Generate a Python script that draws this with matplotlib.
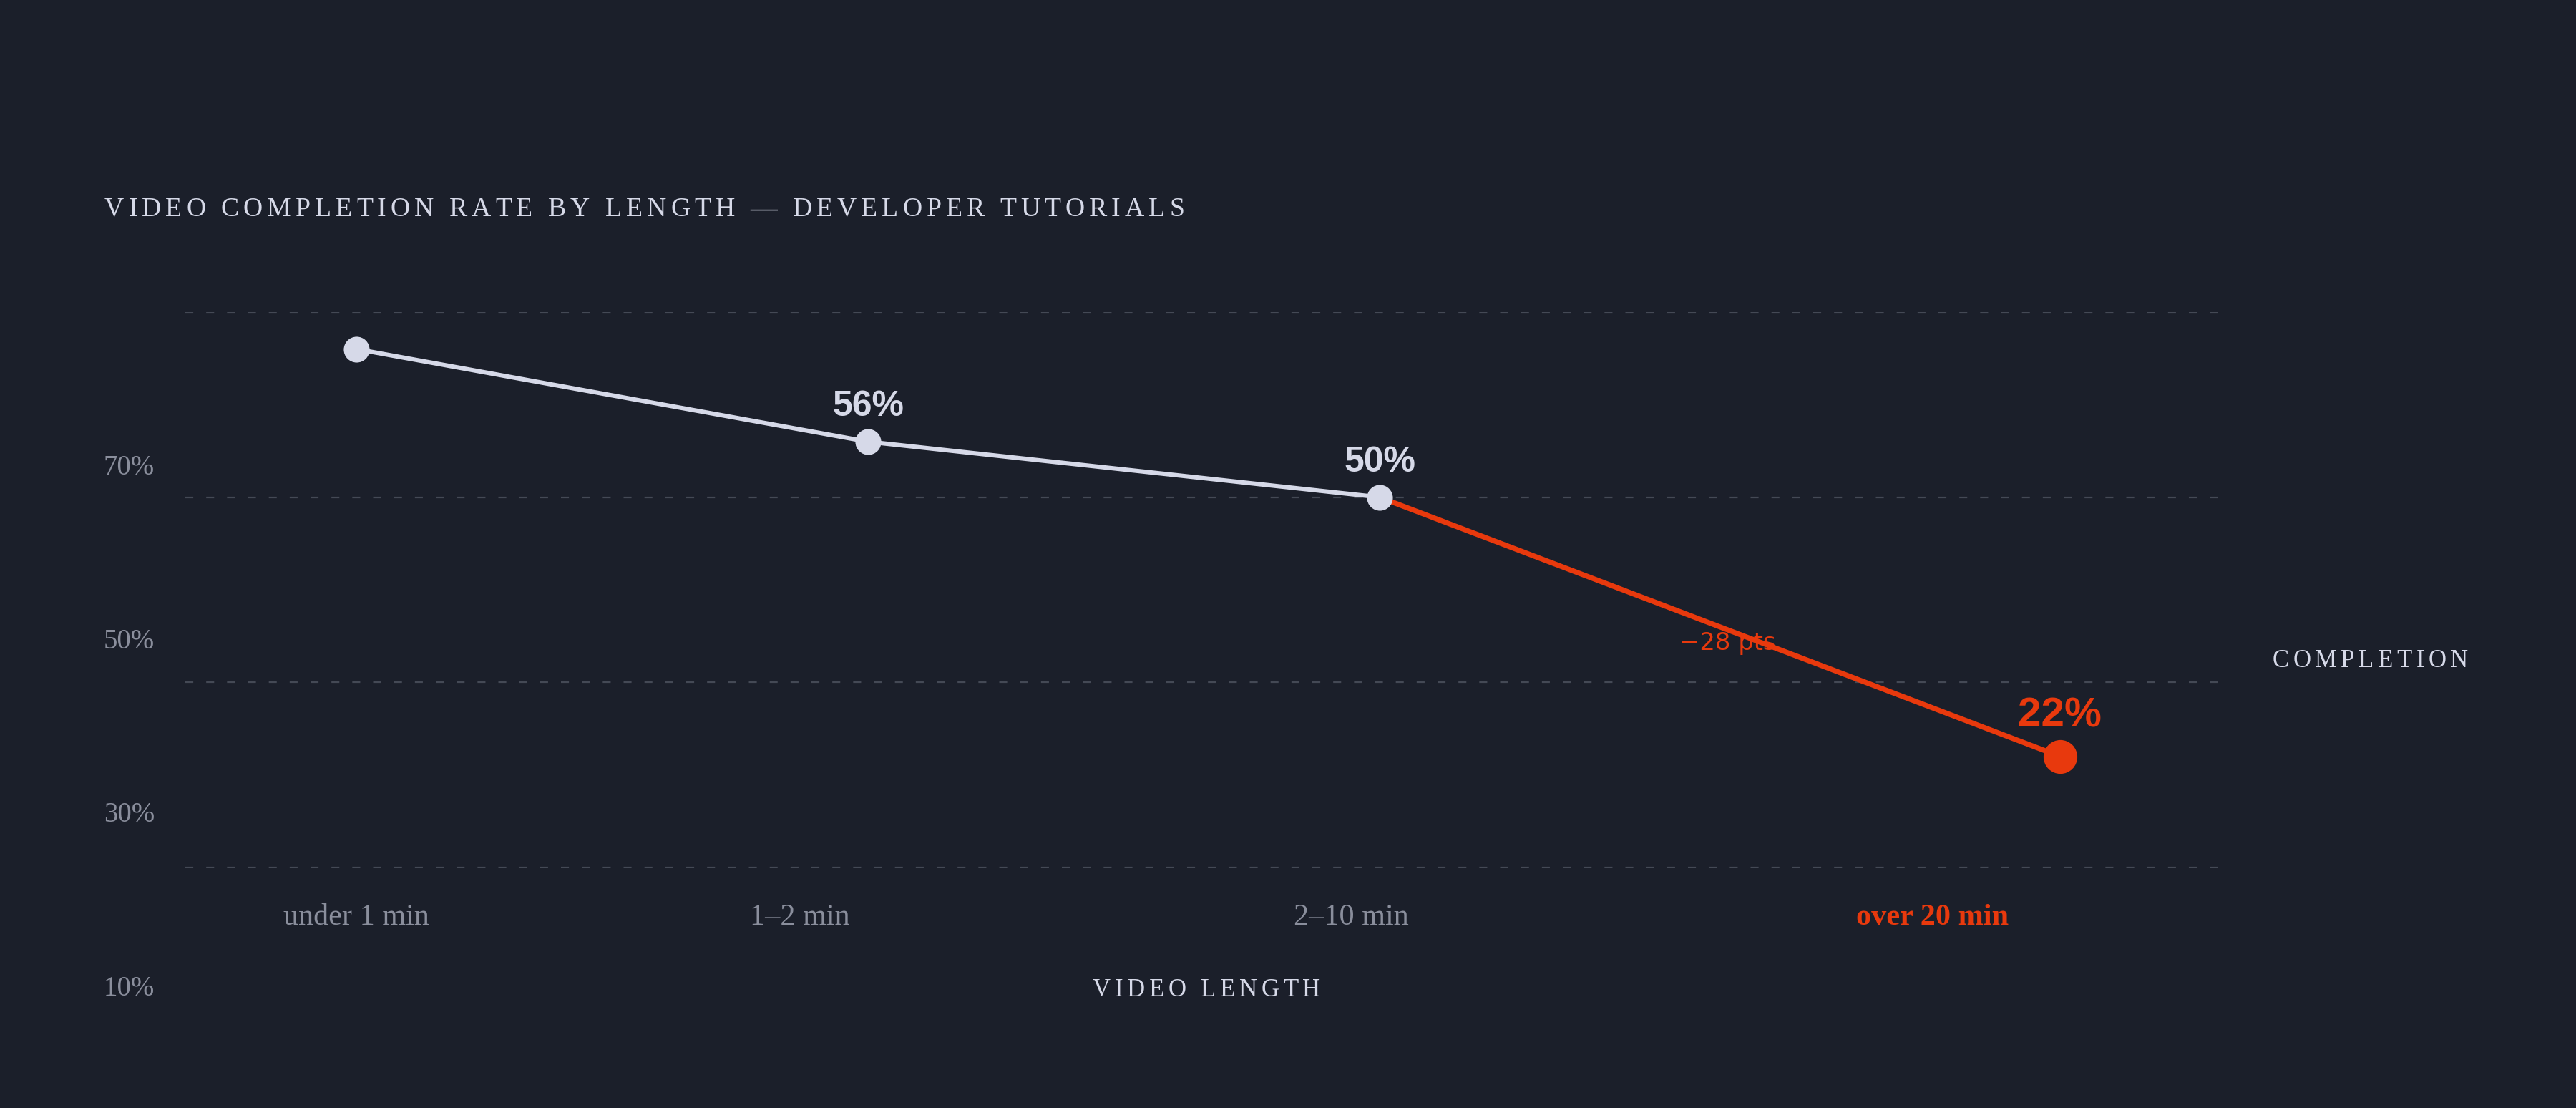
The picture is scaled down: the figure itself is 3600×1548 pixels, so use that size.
import matplotlib
matplotlib.use("Agg")
import matplotlib.pyplot as plt

# ---------------- data ----------------
categories = ["under 1 min", "1–2 min", "2–10 min", "over 20 min"]
completion = [66, 56, 50, 22]
labelled = [False, True, True, True]
y_ticks = [10, 30, 50, 70]
y_tick_labels = ["10%", "30%", "50%", "70%"]
drop_label = "−28 pts"
title = "VIDEO COMPLETION RATE BY LENGTH — DEVELOPER TUTORIALS"
x_title = "VIDEO LENGTH"
y_title = "COMPLETION"

# ---------------- layout / style ----------------
slots = [0, 1, 2, 3.33]            # horizontal slot of each point
tick_slots = [0, 0.867, 1.945, 3.08]
W, H, DPI = 3600, 1548, 200
BG = "#1b1f2a"
LIGHT = "#d6d9e8"
GRAY = "#8a8e9c"
RED = "#e8390d"
GRID = "#444955"
SERIF = "Liberation Serif"
SANS = "Liberation Sans"

plt.rcParams["lines.scale_dashes"] = False
fig = plt.figure(figsize=(W / DPI, H / DPI), dpi=DPI, facecolor=BG)

def px_box(x0, y_top, x1, y_bot):
    return [x0 / W, 1 - y_bot / H, (x1 - x0) / W, (y_bot - y_top) / H]

ax = fig.add_axes(px_box(259, 436, 3104, 1212))
ax.set_facecolor("none")
ax.set_xlim(-0.3343, 3.6448)
ax.set_ylim(10, 70)
for s in ax.spines.values():
    s.set_visible(False)
for v in y_ticks:
    ax.axhline(v, color=GRID, lw=0.8, ls=(0, (4.0, 6.5)), zorder=0)
ax.set_yticks([])
ax.set_xticks(tick_slots, categories)
ax.tick_params(axis="x", length=0, pad=80 * 72 / DPI)
for i, lbl in enumerate(ax.get_xticklabels()):
    lbl.set_va("baseline")
    lbl.set_family(SERIF)
    lbl.set_fontsize(15.2)
    if i == len(categories) - 1:
        lbl.set_color(RED)
        lbl.set_fontweight("bold")
    else:
        lbl.set_color(GRAY)

# gray segment
ax.plot(slots[:3], completion[:3], color=LIGHT, lw=2.2, solid_capstyle="round",
        zorder=3, clip_on=False)
# red segment
ax.plot(slots[2:], completion[2:], color=RED, lw=2.6, solid_capstyle="round",
        zorder=4, clip_on=False)
ax.plot(slots[:3], completion[:3], "o", ms=13, color=LIGHT, mec="none",
        zorder=5, clip_on=False)
ax.plot(slots[3:], completion[3:], "o", ms=17, color=RED, mec="none",
        zorder=6, clip_on=False)

for i, (xs, v, show) in enumerate(zip(slots, completion, labelled)):
    if not show:
        continue
    last = i == len(completion) - 1
    ax.annotate(f"{v}%", (xs, v), xytext=(0, 41 if last else 36),
                textcoords="offset pixels", ha="center", va="baseline",
                fontsize=21 if last else 18, fontweight="bold",
                family=SANS, color=RED if last else LIGHT, zorder=7)

mid_x = (slots[2] + slots[3]) / 2
mid_y = (completion[2] + completion[3]) / 2
ax.annotate(drop_label, (mid_x, mid_y), xytext=(11, -32),
            textcoords="offset pixels", ha="center", va="baseline",
            fontsize=12.2, family="DejaVu Sans", color=RED, zorder=2)

# y tick labels (offset column)
ay = fig.add_axes(px_box(216, 663, 217, 1391))
ay.set_facecolor("none")
for s in ay.spines.values():
    s.set_visible(False)
ay.set_ylim(10, 70)
ay.set_xticks([])
ay.set_yticks(y_ticks, y_tick_labels)
ay.tick_params(axis="y", length=0, pad=0, labelsize=14, labelcolor=GRAY)
for lbl in ay.get_yticklabels():
    lbl.set_va("baseline")
    lbl.set_family(SERIF)

# tracked (letter-spaced) text helper
renderer = fig.canvas.get_renderer()

def _w(txt, size, weight):
    t = fig.text(0, 0, txt, fontsize=size, family=SERIF, weight=weight)
    w = t.get_window_extent(renderer).width
    t.remove()
    return w

def tracked(s, x_left, y_base, width, size, color, weight="normal"):
    ref = _w("II", size, weight)
    widths = [_w("I" + ch + "I", size, weight) - ref for ch in s]
    gap = (width - sum(widths)) / (len(s) - 1)
    x = x_left
    for ch, cw in zip(s, widths):
        if ch != " ":
            fig.text(x / W, 1 - y_base / H, ch, fontsize=size, family=SERIF,
                     weight=weight, color=color, ha="left", va="baseline")
        x += cw + gap

tracked(title, 146, 302, 1509, 13.6, LIGHT)
tracked(x_title, 1527, 1392, 318, 12.5, LIGHT)
tracked(y_title, 3176, 932, 273, 12.5, LIGHT)

fig.savefig("out.png", dpi=DPI, facecolor=BG)
